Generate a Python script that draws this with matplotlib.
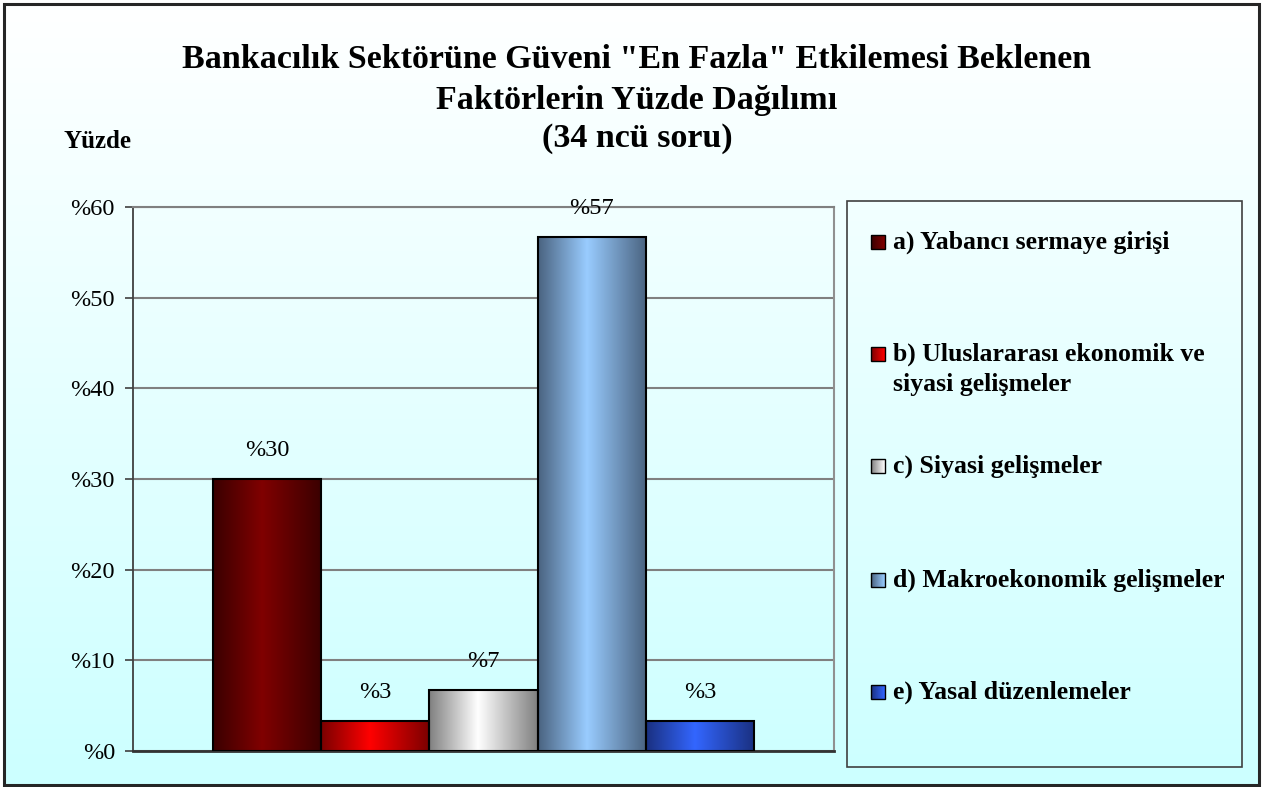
import numpy as np
import matplotlib
matplotlib.use("Agg")
import matplotlib.pyplot as plt
from matplotlib.colors import LinearSegmentedColormap
from matplotlib.patches import Rectangle

# ---------------- data ----------------
categories = ["a) Yabancı sermaye girişi",
              "b) Uluslararası ekonomik ve\nsiyasi gelişmeler",
              "c) Siyasi gelişmeler",
              "d) Makroekonomik gelişmeler",
              "e) Yasal düzenlemeler"]
values = [30.0, 3.3, 6.7, 56.7, 3.3]
value_labels = ["%30", "%3", "%7", "%57", "%3"]
yticks = [0, 10, 20, 30, 40, 50, 60]
ytick_labels = ["%0", "%10", "%20", "%30", "%40", "%50", "%60"]
title_lines = ['Bankacılık Sektörüne Güveni "En Fazla" Etkilemesi Beklenen',
               'Faktörlerin Yüzde Dağılımı',
               '(34 ncü soru)']
y_title = "Yüzde"

# colour pairs (edge-dark, centre-light) for the cylinder-like shading
dark_cols = ["#3a0000", "#7a0000", "#808080", "#4a6380", "#1a3080"]
light_cols = ["#800000", "#ff0000", "#ffffff", "#99ccff", "#3366ff"]

SERIF = ["Liberation Serif", "DejaVu Serif"]
W, H = 1263, 787
fig = plt.figure(figsize=(W / 100, H / 100), dpi=100)
fig.patch.set_facecolor("white")

# ---------------- background / overlay axes in pixel coordinates -------------
bg = fig.add_axes([0, 0, 1, 1], zorder=0)
bg.set_xlim(0, W)
bg.set_ylim(H, 0)
bg.axis("off")
grad = np.linspace(0, 1, 256).reshape(-1, 1)
bg_cmap = LinearSegmentedColormap.from_list("bgc", ["#ffffff", "#ccffff"])
bg.imshow(grad, cmap=bg_cmap, extent=[4, 1259, 785, 4], aspect="auto", zorder=0)
bg.add_patch(Rectangle((4, 4), 1255, 781, fill=False, edgecolor="#262626",
                       lw=2.2, zorder=5))

# legend box
bg.add_patch(Rectangle((847, 201), 395, 566, fill=False, edgecolor="#404040",
                       lw=1.2, zorder=5))
leg_y = [242, 354, 466, 580, 692]
for i, lab in enumerate(categories):
    cm = LinearSegmentedColormap.from_list("m%d" % i, [dark_cols[i], light_cols[i]])
    bg.imshow(np.linspace(0, 1, 32).reshape(1, -1), cmap=cm,
              extent=[871, 885, leg_y[i] + 7, leg_y[i] - 7], aspect="auto", zorder=4)
    bg.add_patch(Rectangle((871, leg_y[i] - 7), 14, 14, fill=False,
                           edgecolor="black", lw=1.0, zorder=5))
    for j, line in enumerate(lab.split("\n")):
        bg.text(893, leg_y[i] + j * 30, line, family=SERIF, fontweight="bold",
                fontsize=18.5, va="center", ha="left", zorder=6)

# titles
title_y = [59, 100, 139]
for ty, tl in zip(title_y, title_lines):
    bg.text(637, ty, tl, family=SERIF, fontweight="bold", fontsize=24.5,
            ha="center", va="center", zorder=6)
bg.text(64, 141, y_title, family=SERIF, fontweight="bold", fontsize=18,
        ha="left", va="center", zorder=6)

# ---------------- main axes ----------------
ax = fig.add_axes([133 / W, 1 - 751 / H, (834 - 133) / W, (751 - 207) / H], zorder=2)
ax.set_facecolor("none")
x = np.arange(len(values))
bars = ax.bar(x, values, width=1.0, facecolor="none", edgecolor="black",
              lw=1.5, zorder=3)
for i, b in enumerate(bars):
    cm = LinearSegmentedColormap.from_list(
        "b%d" % i, [(0, dark_cols[i]), (0.45, light_cols[i]), (1, dark_cols[i])])
    im = ax.imshow(np.linspace(0, 1, 256).reshape(1, -1), cmap=cm,
                   extent=[b.get_x(), b.get_x() + b.get_width(), 0, b.get_height()],
                   aspect="auto", zorder=2.5)
    im.set_clip_path(b)
    ax.annotate(value_labels[i], (b.get_x() + b.get_width() / 2, b.get_height()),
                xytext=(0, 20.5), textcoords="offset points", ha="center",
                va="center", family=SERIF, fontsize=17.5, zorder=6)

ax.set_xlim(-1.24, 5.24)
ax.set_ylim(0, 60)
ax.set_yticks(yticks)
ax.set_yticklabels(ytick_labels, family=SERIF, fontsize=17.5)
ax.set_xticks([])
ax.tick_params(axis="y", length=6, width=1.2, color="#404040", pad=7)
ax.grid(axis="y", color="#808080", lw=1.5, zorder=1)
ax.set_axisbelow(True)
ax.spines["left"].set_color("#404040")
ax.spines["left"].set_linewidth(1.3)
ax.spines["bottom"].set_color("#333333")
ax.spines["bottom"].set_linewidth(2)
ax.spines["right"].set_color("#909090")
ax.spines["right"].set_linewidth(1.5)
ax.spines["top"].set_color("#808080")
ax.spines["top"].set_linewidth(1.5)

fig.savefig("out.png", dpi=100)
